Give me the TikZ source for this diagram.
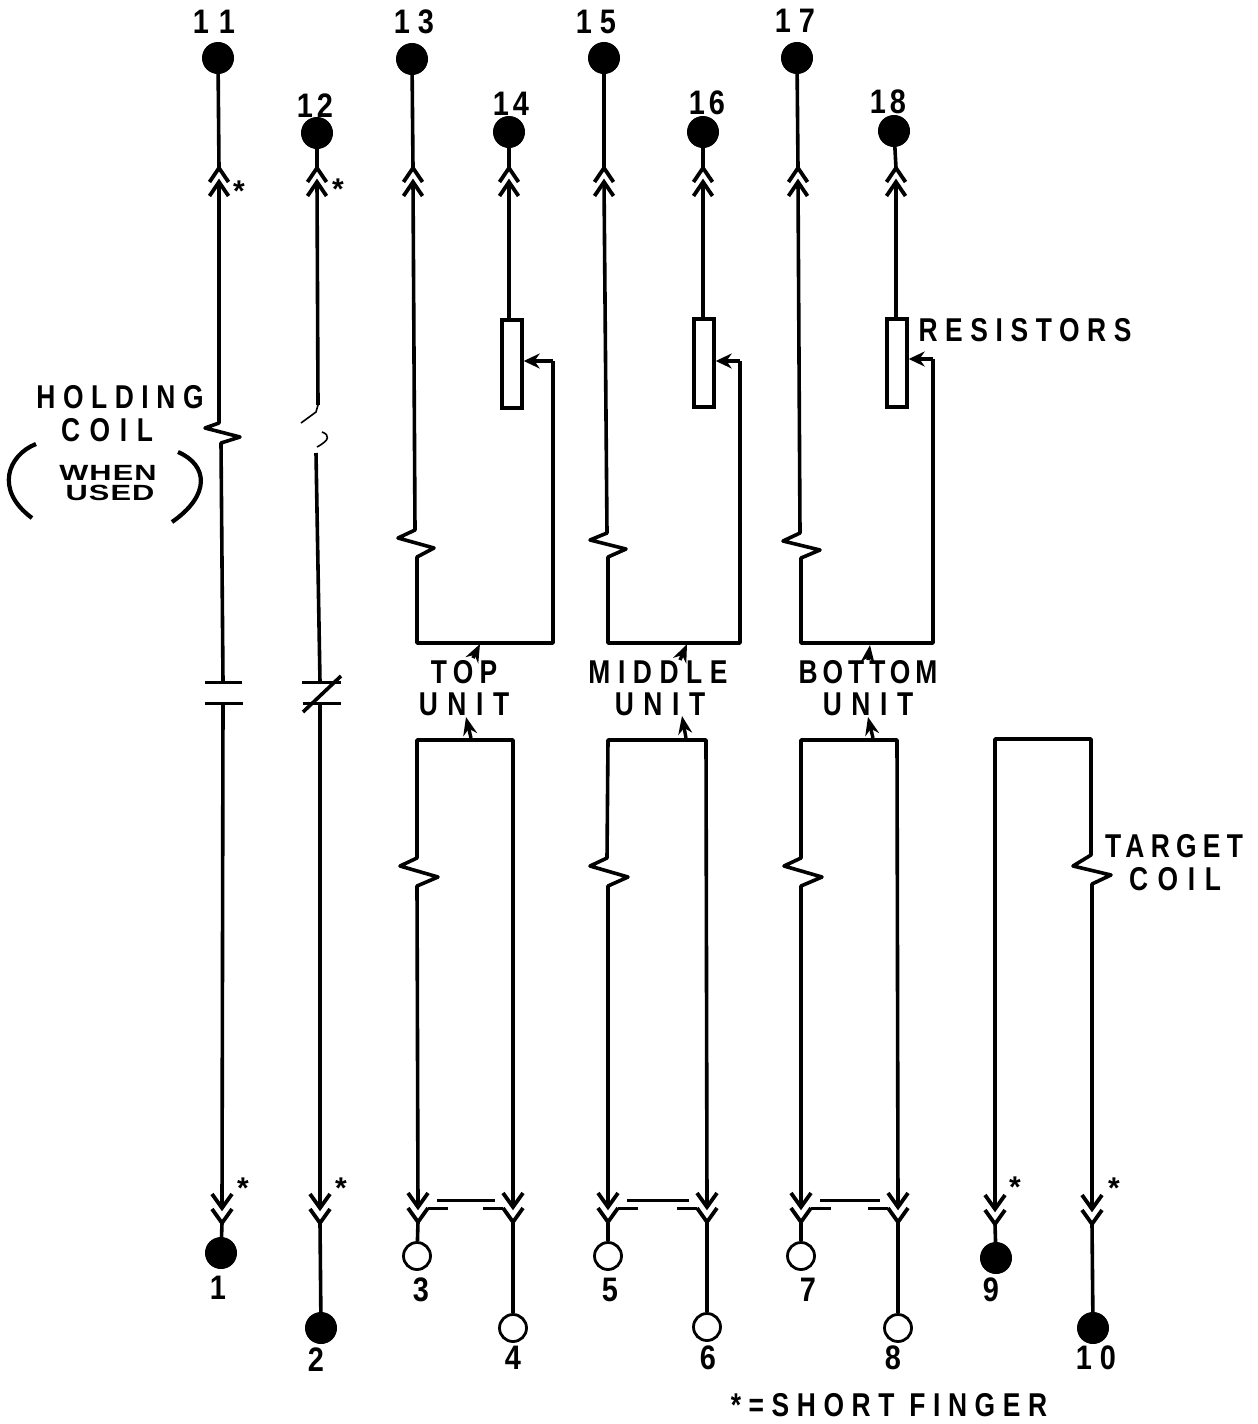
\documentclass[tikz,border=0pt]{standalone}
\usepackage{fontspec}
\usetikzlibrary{arrows.meta}
\setmainfont{Liberation Sans}
\newfontfamily\lblfont[FakeStretch=0.8,LetterSpace=19]{Liberation Sans Bold}
\newfontfamily\lblmid[FakeStretch=0.8,LetterSpace=23]{Liberation Sans Bold}
\newfontfamily\lblwide[FakeStretch=0.8,LetterSpace=29]{Liberation Sans Bold}
\newfontfamily\lbltight[FakeStretch=0.8,LetterSpace=15]{Liberation Sans Bold}
\newfontfamily\numfont[FakeStretch=0.85]{Liberation Sans Bold}
\newfontfamily\widefont[FakeStretch=1.4,LetterSpace=5]{Liberation Sans Bold}
\tikzset{
  wire/.style={line width=1.8pt,line join=round},
  thinbit/.style={line width=0.8pt},
  fork/.style={line width=1.9pt},
  plate/.style={line width=1.5pt},
  filled/.style={circle,fill=black,draw=black,line width=0.5pt,inner sep=0pt,minimum size=15.5pt},
  opened/.style={circle,draw=black,fill=white,line width=1.4pt,inner sep=0pt,minimum size=13.5pt},
  resist/.style={draw=black,fill=white,line width=1.7pt,inner sep=0pt,minimum width=10pt,minimum height=44pt},
  lbl/.style={inner sep=0pt,font=\fontsize{16.5}{16.5}\selectfont\lblfont},
  lblm/.style={inner sep=0pt,font=\fontsize{16.5}{16.5}\selectfont\lblmid},
  lblw/.style={inner sep=0pt,font=\fontsize{16.5}{16.5}\selectfont\lblwide},
  lblt/.style={inner sep=0pt,font=\fontsize{16.5}{16.5}\selectfont\lbltight},
  num/.style={inner sep=0pt,font=\fontsize{17}{17}\selectfont\numfont},
  star/.style={inner sep=0pt,font=\fontsize{15}{15}\selectfont\bfseries},
  small/.style={inner sep=0pt,font=\fontsize{11}{11}\selectfont\widefont},
  pointer/.style={line width=1.7pt,-{Stealth[length=9pt,width=7pt]}},
  wiper/.style={line width=2pt,-{Stealth[length=8pt,width=7.5pt]}}
}
% upper double chevron: #1 name, #2 x, #3 apex y
\newcommand{\upchev}[3]{%
  \coordinate (#1a) at (#2,#3);
  \coordinate (#1b) at (#2,#3+14);
  \draw[fork] (#2-9.5,#3+14) -- (#1a) -- (#2+9.5,#3+14);
  \draw[fork] (#2-9.5,#3+28) -- (#1b) -- (#2+9.5,#3+28);
}
% lower double chevron: #1 name, #2 x, #3 y of the upper apex
\newcommand{\downchev}[3]{%
  \coordinate (#1a) at (#2,#3);
  \coordinate (#1b) at (#2,#3+15);
  \draw[fork] (#2-10,#3-14) -- (#1a) -- (#2+10,#3-14);
  \draw[fork] (#2-10,#3+1) -- (#1b) -- (#2+10,#3+1);
}
\begin{document}
\begin{tikzpicture}[x=0.5pt,y=-0.5pt]
\useasboundingbox (0,0) rectangle (1258,1424);
% terminals
\node[filled] (t11) at (218,58) {};
\node[filled] (t13) at (412,59) {};
\node[filled] (t15) at (604,58) {};
\node[filled] (t17) at (797,58) {};
\node[filled] (t12) at (317,133) {};
\node[filled] (t14) at (509,132) {};
\node[filled] (t16) at (703,132) {};
\node[filled] (t18) at (894,131) {};
\node[filled] (t1) at (221,1253) {};
\node[filled] (t2) at (321,1328) {};
\node[opened] (t3) at (417,1256) {};
\node[opened] (t4) at (513,1328) {};
\node[opened] (t5) at (608,1256) {};
\node[opened] (t6) at (707,1327) {};
\node[opened] (t7) at (801,1256) {};
\node[opened] (t8) at (898,1328) {};
\node[filled] (t9) at (996,1258) {};
\node[filled] (t10) at (1093,1328) {};
% top chevrons
\upchev{u11}{219}{168}
\upchev{u12}{317}{168}
\upchev{u13}{413}{168}
\upchev{u14}{509}{168}
\upchev{u15}{604}{168}
\upchev{u16}{703}{168}
\upchev{u17}{798}{168}
\upchev{u18}{896}{168}
% bottom chevrons
\downchev{d1}{222}{1208}
\downchev{d2}{320}{1208}
\downchev{d3}{418}{1207}
\downchev{d4}{513}{1207}
\downchev{d5}{608}{1207}
\downchev{d6}{707}{1207}
\downchev{d7}{801}{1207}
\downchev{d8}{898}{1207}
\downchev{d9}{995}{1209}
\downchev{d10}{1092}{1209}
% terminal stubs
\foreach \t/\u in {t11/u11a,t12/u12a,t13/u13a,t14/u14a,t15/u15a,t16/u16a,t17/u17a,t18/u18a,
  t1/d1b,t2/d2b,t3/d3b,t4/d4b,t5/d5b,t6/d6b,t7/d7b,t8/d8b,t9/d9b,t10/d10b}
  \draw[wire] (\t) -- (\u);
% column 1: holding coil and open contact
\coordinate (p1a) at (223,682);
\coordinate (p1b) at (223,703);
\draw[wire] (u11b) -- (219,423) -- (205,428) -- (240,437) -- (221,443) -- (p1a);
\draw[plate] (205,682) -- (242,682);
\draw[plate] (205,703) -- (243,703);
\draw[wire] (p1b) -- (d1a);
% column 2: faded coil and closed contact
\coordinate (p2a) at (320,682);
\coordinate (p2b) at (320,703);
\draw[wire] (u12b) -- (318,405);
\draw[thinbit] (318,405) -- (316,412) -- (301,423);
\draw[thinbit] (322,432) .. controls (330,435) and (330,440) .. (317,447);
\draw[wire] (316,453) -- (p2a);
\draw[plate] (302,682) -- (341,682);
\draw[plate] (303,703) -- (341,703);
\draw[wire] (341,676) -- (303,712);
\draw[wire] (p2b) -- (d2a);
% resistors
\node[resist] (r1) at (512,364) {};
\node[resist] (r2) at (704,363) {};
\node[resist] (r3) at (897,363) {};
\draw[wire] (u14b) -- (r1.north -| u14b);
\draw[wire] (u16b) -- (r2.north -| u16b);
\draw[wire] (u18b) -- (r3.north -| u18b);
% upper unit loops
\draw[wire] (u13b) -- (415,530) -- (398,538) -- (434,548) -- (417,557) -- (417,643) -- (553,643) -- (553,361);
\draw[wiper] (553,361) -- (r1.east |- 553,361);
\draw[wire] (u15b) -- (607,533) -- (590,540) -- (626,549) -- (608,557) -- (608,643) -- (740,643) -- (740,361);
\draw[wiper] (740,361) -- (r2.east |- 740,361);
\draw[wire] (u17b) -- (800,533) -- (783,541) -- (820,550) -- (801,558) -- (801,643) -- (933,643) -- (933,359);
\draw[wiper] (933,359) -- (r3.east |- 933,359);
% lower unit loops
\draw[wire] (d3a) -- (417,886) -- (438,877) -- (400,866) -- (417,858) -- (417,740) -- (513,740) -- (d4a);
\draw[wire] (d5a) -- (608,886) -- (628,877) -- (590,866) -- (607,858) -- (608,740) -- (706,740) -- (d6a);
\draw[wire] (d7a) -- (801,886) -- (822,877) -- (784,866) -- (801,858) -- (801,740) -- (897,740) -- (d8a);
\draw[wire] (d9a) -- (995,739) -- (1091,739) -- (1091,855) -- (1073,866) -- (1111,875) -- (1092,884) -- (d10a);
% bridges between fingers
\foreach \x/\w in {418/95,608/99,801/97}{
  \draw[plate] (\x+19,1200) -- (\x+\w-18,1200);
  \draw[plate] (\x+10,1208) -- (\x+30,1208);
  \draw[plate] (\x+\w-30,1208) -- (\x+\w-10,1208);
}
% mechanical pointers
\draw[pointer] (473,658) -- (480,644);
\draw[pointer] (471,738) -- (466,717);
\draw[pointer] (680,660) -- (687,644);
\draw[pointer] (686,738) -- (682,716);
\draw[pointer] (868,660) -- (870,645);
\draw[pointer] (873,738) -- (868,717);
% brackets
\draw[line width=2.1pt] (36,444) .. controls (8,455) and (-6,490) .. (32,518);
\draw[line width=2.1pt] (178,452) .. controls (208,465) and (211,495) .. (172,522);
% numbers
\node[num] (n11) at (214,22) {1\kern5pt 1};
\node[num] (n12) at (315,106) {1\kern2pt 2};
\node[num] (n13) at (414,22) {1\kern4pt 3};
\node[num] (n14) at (511,104) {1\kern2pt 4};
\node[num] (n15) at (596,22) {1\kern4pt 5};
\node[num] (n16) at (707,103) {1\kern2pt 6};
\node[num] (n17) at (795,21) {1\kern4pt 7};
\node[num] (n18) at (888,102) {1\kern2pt 8};
\node[num] (n1) at (218,1288) {1};
\node[num] (n2) at (316,1360) {2};
\node[num] (n3) at (421,1290) {3};
\node[num] (n4) at (513,1358) {4};
\node[num] (n5) at (610,1290) {5};
\node[num] (n6) at (708,1358) {6};
\node[num] (n7) at (808,1290) {7};
\node[num] (n8) at (893,1358) {8};
\node[num] (n9) at (991,1290) {9};
\node[num] (n10) at (1096,1358) {1\kern4pt 0};
% asterisks
\node[star] (s1) at (239,191) {*};
\node[star] (s2) at (338,189) {*};
\node[star] (s3) at (243,1188) {*};
\node[star] (s4) at (341,1188) {*};
\node[star] (s5) at (1015,1187) {*};
\node[star] (s6) at (1114,1188) {*};
% labels
\node[lblm] (holding) at (120,397) {HOLDING};
\node[lblw] (coila) at (107,430) {COIL};
\node[small] (when) at (108,473) {WHEN};
\node[small] (used) at (110,493) {USED};
\node[lblm] (res) at (1025,330) {RESISTORS};
\node[lbl] (top) at (464,672) {TOP};
\node[lblw] (unita) at (464,704) {UNIT};
\node[lblm] (middle) at (658,672) {MIDDLE};
\node[lblw] (unitb) at (660,704) {UNIT};
\node[lblt] (bottom) at (868,672) {BOTTOM};
\node[lblw] (unitc) at (868,704) {UNIT};
\node[lbl] (target) at (1174,846) {TARGET};
\node[lblw] (coilb) at (1175,879) {COIL};
\node[lblm] (short) at (889,1405) {*=SHORT FINGER};
\end{tikzpicture}
\end{document}
